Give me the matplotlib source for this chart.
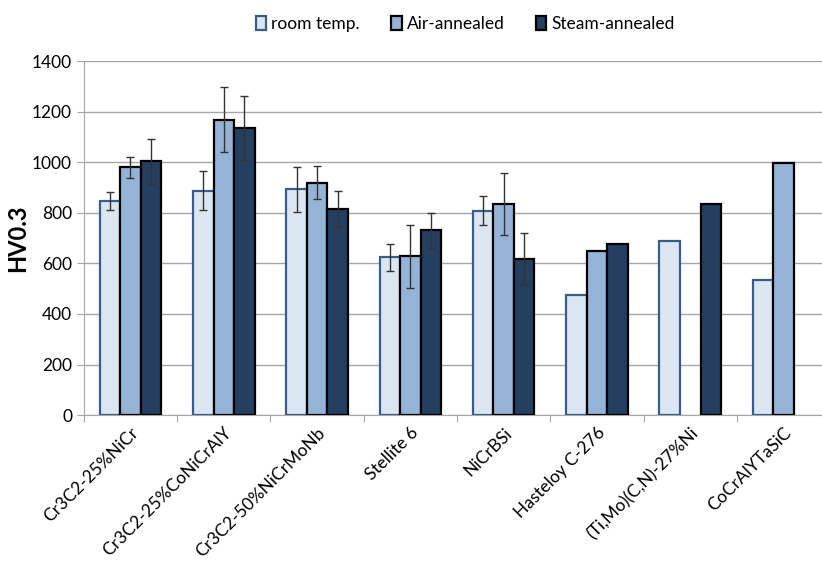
import numpy as np
import matplotlib.pyplot as plt

plt.rcParams['font.family'] = ['Lato', 'DejaVu Sans']

materiales = ['Cr3C2-25%NiCr', 'Cr3C2-25%CoNiCrAlY', 'Cr3C2-50%NiCrMoNb', 'Stellite 6',
              'NiCrBSi', 'Hasteloy C-276', '(Ti,Mo)(C,N)-27%Ni', 'CoCrAlYTaSiC']
series = ['room temp.', 'Air-annealed', 'Steam-annealed']

room = [848, 888, 893, 624, 809, 476, 688, 536]
air = [981, 1169, 920, 628, 834, 648, np.nan, 997]
steam = [1004, 1136, 815, 731, 617, 675, 837, np.nan]

room_err = [35, 76, 90, 53, 58, np.nan, np.nan, np.nan]
air_err = [42, 130, 64, 125, 122, np.nan, np.nan, np.nan]
steam_err = [90, 128, 70, 70, 103, np.nan, np.nan, np.nan]

rellenos = ['#dce6f2', '#95b3d7', '#243f60']
bordes = ['#385d8a', 'black', 'black']

fig = plt.figure(figsize=(8.22, 5.67), dpi=100)
ax = fig.add_axes([0.102, 0.268, 0.908, 0.624])

x = np.arange(len(materiales)) + 0.5
ancho = 0.22
valores = [room, air, steam]
errores = [room_err, air_err, steam_err]
for i in range(3):
    pos = x + (i - 1) * ancho
    ax.bar(pos, valores[i], ancho, color=rellenos[i], edgecolor=bordes[i],
           linewidth=1.6, label=series[i], zorder=3)
    ax.errorbar(pos, valores[i], yerr=errores[i], fmt='none', ecolor='#333333',
                elinewidth=1, capsize=3, capthick=1, zorder=4)

ax.set_xlim(0, len(materiales))
ax.set_ylim(0, 1400)
ax.set_yticks(range(0, 1401, 200))
ax.grid(axis='y', color='#a6a6a6', linewidth=1, zorder=0)
ax.set_axisbelow(True)

ax.set_xticks(np.arange(len(materiales) + 1))
ax.set_xticklabels([])
ax.set_xticks(x, minor=True)
ax.set_xticklabels(materiales, minor=True, rotation=45, ha='right', va='top',
                   rotation_mode='anchor', fontsize=12.5)
ax.tick_params(axis='x', which='minor', length=0, pad=7)
ax.tick_params(axis='x', which='major', length=5, color='#a6a6a6')
ax.tick_params(axis='y', length=5, color='#a6a6a6', labelsize=12.5)

for lado in ['top', 'right']:
    ax.spines[lado].set_visible(False)
ax.spines['left'].set_color('#a6a6a6')
ax.spines['bottom'].set_color('#a6a6a6')

ax.set_ylabel('HV0.3', fontsize=17, fontweight='bold', labelpad=2)

fig.legend(loc='upper center', bbox_to_anchor=(0.566, 1.0), ncol=3, frameon=False,
           fontsize=12.5, handlelength=0.6, handleheight=0.9, handletextpad=0.3,
           columnspacing=1.8)

fig.savefig('out.png', dpi=100)
